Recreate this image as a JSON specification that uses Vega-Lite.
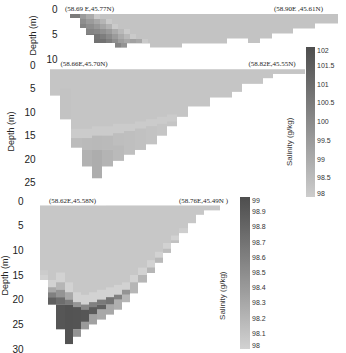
{
  "$schema": "https://vega.github.io/schema/vega-lite/v6.json",
  "padding": {"left": 0, "top": 4, "right": 0, "bottom": 0},
  "background": "white",
  "config": {
    "view": {"stroke": null},
    "font": "Liberation Sans",
    "axis": {"domain": false, "ticks": false, "grid": false, "labelFontSize": 10, "labelColor": "#222", "titleFontSize": 9, "titleFontWeight": "normal", "titleColor": "#222", "labelOverlap": false},
    "legend": {"labelFontSize": 7, "labelColor": "#333", "gradientStrokeWidth": 0, "labelOverlap": false}
  },
  "datasets": {
    "p1": [
      {"x0": 30, "x1": 40, "d0": 1, "d1": 1.8, "s": 98.3},
      {"x0": 40, "x1": 46, "d0": 1, "d1": 3.8, "s": 98.3},
      {"x0": 46, "x1": 54, "d0": 1, "d1": 5.2, "s": 98.3},
      {"x0": 54, "x1": 75, "d0": 1, "d1": 6.8, "s": 98.3},
      {"x0": 75, "x1": 87, "d0": 1, "d1": 7.7, "s": 98.3},
      {"x0": 87, "x1": 110, "d0": 1, "d1": 6.9, "s": 98.3},
      {"x0": 110, "x1": 142, "d0": 1, "d1": 7.7, "s": 98.3},
      {"x0": 142, "x1": 187, "d0": 1, "d1": 6.9, "s": 98.3},
      {"x0": 187, "x1": 208, "d0": 1, "d1": 5.9, "s": 98.3},
      {"x0": 208, "x1": 220, "d0": 1, "d1": 6.8, "s": 98.3},
      {"x0": 220, "x1": 232, "d0": 1, "d1": 5.9, "s": 98.3},
      {"x0": 232, "x1": 253, "d0": 1, "d1": 4.9, "s": 98.3},
      {"x0": 253, "x1": 275, "d0": 1, "d1": 3.9, "s": 98.3},
      {"x0": 275, "x1": 298, "d0": 1, "d1": 2.9, "s": 98.3},
      {"x0": 30, "x1": 40, "d0": 1, "d1": 1.8, "s": 100.5},
      {"x0": 40, "x1": 46, "d0": 1, "d1": 2, "s": 99.5},
      {"x0": 46, "x1": 54, "d0": 1, "d1": 2, "s": 99.0},
      {"x0": 54, "x1": 60, "d0": 1, "d1": 2, "s": 98.1},
      {"x0": 40, "x1": 46, "d0": 2, "d1": 3, "s": 99.9},
      {"x0": 46, "x1": 54, "d0": 2, "d1": 3, "s": 99.5},
      {"x0": 54, "x1": 60, "d0": 2, "d1": 3, "s": 99.1},
      {"x0": 60, "x1": 66, "d0": 2, "d1": 3, "s": 98.7},
      {"x0": 66, "x1": 72, "d0": 2, "d1": 3, "s": 98.1},
      {"x0": 40, "x1": 46, "d0": 3, "d1": 3.8, "s": 100.2},
      {"x0": 46, "x1": 54, "d0": 3, "d1": 4, "s": 99.9},
      {"x0": 54, "x1": 60, "d0": 3, "d1": 4, "s": 99.6},
      {"x0": 60, "x1": 66, "d0": 3, "d1": 4, "s": 99.2},
      {"x0": 66, "x1": 72, "d0": 3, "d1": 4, "s": 98.8},
      {"x0": 72, "x1": 78, "d0": 3, "d1": 4, "s": 98.1},
      {"x0": 46, "x1": 54, "d0": 4, "d1": 5, "s": 100.2},
      {"x0": 54, "x1": 60, "d0": 4, "d1": 5, "s": 100.1},
      {"x0": 60, "x1": 66, "d0": 4, "d1": 5, "s": 99.8},
      {"x0": 66, "x1": 72, "d0": 4, "d1": 5, "s": 99.5},
      {"x0": 72, "x1": 78, "d0": 4, "d1": 5, "s": 99.0},
      {"x0": 78, "x1": 84, "d0": 4, "d1": 5, "s": 98.6},
      {"x0": 84, "x1": 90, "d0": 4, "d1": 5, "s": 98.1},
      {"x0": 46, "x1": 54, "d0": 5, "d1": 5.2, "s": 100.5},
      {"x0": 54, "x1": 60, "d0": 5, "d1": 6, "s": 100.7},
      {"x0": 60, "x1": 66, "d0": 5, "d1": 6, "s": 100.4},
      {"x0": 66, "x1": 72, "d0": 5, "d1": 6, "s": 100.0},
      {"x0": 72, "x1": 78, "d0": 5, "d1": 6, "s": 99.5},
      {"x0": 78, "x1": 84, "d0": 5, "d1": 6, "s": 99.0},
      {"x0": 84, "x1": 90, "d0": 5, "d1": 6, "s": 98.6},
      {"x0": 90, "x1": 96, "d0": 5, "d1": 6, "s": 98.1},
      {"x0": 54, "x1": 60, "d0": 6, "d1": 6.8, "s": 100.8},
      {"x0": 60, "x1": 66, "d0": 6, "d1": 6.8, "s": 100.8},
      {"x0": 66, "x1": 72, "d0": 6, "d1": 6.8, "s": 100.4},
      {"x0": 72, "x1": 78, "d0": 6, "d1": 6.8, "s": 99.9},
      {"x0": 78, "x1": 84, "d0": 6, "d1": 6.8, "s": 99.4},
      {"x0": 84, "x1": 90, "d0": 6, "d1": 6.8, "s": 99.1},
      {"x0": 90, "x1": 96, "d0": 6, "d1": 6.8, "s": 99.3},
      {"x0": 96, "x1": 102, "d0": 6, "d1": 6.8, "s": 99.1},
      {"x0": 102, "x1": 108, "d0": 6, "d1": 6.8, "s": 98.1},
      {"x0": 75, "x1": 81, "d0": 6.8, "d1": 7.7, "s": 100.2},
      {"x0": 81, "x1": 87, "d0": 6.8, "d1": 7.7, "s": 99.7}
    ],
    "p2": [
      {"x0": 10, "x1": 20, "d0": 0.9, "d1": 6.5, "s": 98.22},
      {"x0": 20, "x1": 31, "d0": 0.9, "d1": 11.5, "s": 98.22},
      {"x0": 31, "x1": 42, "d0": 0.9, "d1": 17.5, "s": 98.22},
      {"x0": 42, "x1": 52, "d0": 0.9, "d1": 21.5, "s": 98.22},
      {"x0": 52, "x1": 62, "d0": 0.9, "d1": 24, "s": 98.22},
      {"x0": 62, "x1": 73, "d0": 0.9, "d1": 21.5, "s": 98.22},
      {"x0": 73, "x1": 84, "d0": 0.9, "d1": 20.3, "s": 98.22},
      {"x0": 84, "x1": 95, "d0": 0.9, "d1": 19, "s": 98.22},
      {"x0": 95, "x1": 106, "d0": 0.9, "d1": 18, "s": 98.22},
      {"x0": 106, "x1": 117, "d0": 0.9, "d1": 16.8, "s": 98.22},
      {"x0": 117, "x1": 127, "d0": 0.9, "d1": 15, "s": 98.22},
      {"x0": 127, "x1": 137, "d0": 0.9, "d1": 13, "s": 98.22},
      {"x0": 137, "x1": 148, "d0": 0.9, "d1": 11, "s": 98.22},
      {"x0": 148, "x1": 170, "d0": 0.9, "d1": 8.8, "s": 98.22},
      {"x0": 170, "x1": 192, "d0": 0.9, "d1": 6.9, "s": 98.22},
      {"x0": 192, "x1": 202, "d0": 0.9, "d1": 5.7, "s": 98.22},
      {"x0": 202, "x1": 223, "d0": 0.9, "d1": 4, "s": 98.22},
      {"x0": 223, "x1": 233, "d0": 0.9, "d1": 2.8, "s": 98.22},
      {"x0": 233, "x1": 265, "d0": 0.9, "d1": 1.9, "s": 98.22},
      {"x0": 20, "x1": 31, "d0": 5, "d1": 11.5, "s": 98.3},
      {"x0": 31, "x1": 42, "d0": 13.5, "d1": 15.5, "s": 98.05},
      {"x0": 42, "x1": 52, "d0": 13.5, "d1": 15.5, "s": 98.05},
      {"x0": 52, "x1": 62, "d0": 13, "d1": 15, "s": 98.05},
      {"x0": 62, "x1": 73, "d0": 13, "d1": 15, "s": 98.05},
      {"x0": 73, "x1": 84, "d0": 12.5, "d1": 14.5, "s": 98.05},
      {"x0": 84, "x1": 95, "d0": 12.5, "d1": 14, "s": 98.05},
      {"x0": 95, "x1": 106, "d0": 12, "d1": 13.5, "s": 98.05},
      {"x0": 106, "x1": 117, "d0": 11.5, "d1": 13, "s": 98.05},
      {"x0": 117, "x1": 127, "d0": 11, "d1": 12.5, "s": 98.05},
      {"x0": 127, "x1": 137, "d0": 10.5, "d1": 12, "s": 98.05},
      {"x0": 31, "x1": 42, "d0": 15.5, "d1": 17.5, "s": 98.5},
      {"x0": 42, "x1": 52, "d0": 15.5, "d1": 18, "s": 98.55},
      {"x0": 42, "x1": 52, "d0": 18, "d1": 21.5, "s": 98.8},
      {"x0": 52, "x1": 62, "d0": 15, "d1": 18, "s": 98.6},
      {"x0": 52, "x1": 62, "d0": 18, "d1": 24, "s": 98.95},
      {"x0": 62, "x1": 73, "d0": 15, "d1": 18, "s": 98.55},
      {"x0": 62, "x1": 73, "d0": 18, "d1": 21.5, "s": 98.75},
      {"x0": 73, "x1": 84, "d0": 14.5, "d1": 17, "s": 98.45},
      {"x0": 73, "x1": 84, "d0": 17, "d1": 20.3, "s": 98.55},
      {"x0": 84, "x1": 95, "d0": 14, "d1": 19, "s": 98.4},
      {"x0": 95, "x1": 106, "d0": 13.5, "d1": 18, "s": 98.35},
      {"x0": 106, "x1": 117, "d0": 13, "d1": 16.8, "s": 98.3}
    ],
    "p3": [
      {"x0": 0, "x1": 8, "d0": 0.9, "d1": 16, "s": 98.08},
      {"x0": 8, "x1": 16, "d0": 0.9, "d1": 21, "s": 98.08},
      {"x0": 16, "x1": 25, "d0": 0.9, "d1": 26, "s": 98.08},
      {"x0": 25, "x1": 33, "d0": 0.9, "d1": 29, "s": 98.08},
      {"x0": 33, "x1": 41, "d0": 0.9, "d1": 27.5, "s": 98.08},
      {"x0": 41, "x1": 49, "d0": 0.9, "d1": 26, "s": 98.08},
      {"x0": 49, "x1": 57, "d0": 0.9, "d1": 25, "s": 98.08},
      {"x0": 57, "x1": 66, "d0": 0.9, "d1": 24, "s": 98.08},
      {"x0": 66, "x1": 74, "d0": 0.9, "d1": 23, "s": 98.08},
      {"x0": 74, "x1": 82, "d0": 0.9, "d1": 22, "s": 98.08},
      {"x0": 82, "x1": 90, "d0": 0.9, "d1": 20.5, "s": 98.08},
      {"x0": 90, "x1": 98, "d0": 0.9, "d1": 18.7, "s": 98.08},
      {"x0": 98, "x1": 107, "d0": 0.9, "d1": 16.5, "s": 98.08},
      {"x0": 107, "x1": 115, "d0": 0.9, "d1": 14.6, "s": 98.08},
      {"x0": 115, "x1": 123, "d0": 0.9, "d1": 12.5, "s": 98.08},
      {"x0": 123, "x1": 131, "d0": 0.9, "d1": 10.5, "s": 98.08},
      {"x0": 131, "x1": 139, "d0": 0.9, "d1": 8.5, "s": 98.08},
      {"x0": 139, "x1": 148, "d0": 0.9, "d1": 6.5, "s": 98.08},
      {"x0": 148, "x1": 156, "d0": 0.9, "d1": 4.5, "s": 98.08},
      {"x0": 156, "x1": 164, "d0": 0.9, "d1": 2.8, "s": 98.08},
      {"x0": 164, "x1": 180, "d0": 0.9, "d1": 1.9, "s": 98.08},
      {"x0": 0, "x1": 8, "d0": 14, "d1": 15, "s": 98.04},
      {"x0": 0, "x1": 8, "d0": 15, "d1": 16, "s": 98.0},
      {"x0": 8, "x1": 16, "d0": 16, "d1": 17.5, "s": 98.0},
      {"x0": 8, "x1": 16, "d0": 17.5, "d1": 18.5, "s": 98.3},
      {"x0": 8, "x1": 16, "d0": 18.5, "d1": 19.5, "s": 98.6},
      {"x0": 8, "x1": 16, "d0": 19.5, "d1": 21, "s": 98.85},
      {"x0": 16, "x1": 25, "d0": 14.5, "d1": 16.5, "s": 98.0},
      {"x0": 16, "x1": 25, "d0": 16.5, "d1": 18, "s": 98.2},
      {"x0": 16, "x1": 25, "d0": 18, "d1": 19.5, "s": 98.45},
      {"x0": 16, "x1": 25, "d0": 19.5, "d1": 21, "s": 98.75},
      {"x0": 16, "x1": 25, "d0": 21, "d1": 26, "s": 98.93},
      {"x0": 25, "x1": 33, "d0": 16.5, "d1": 18.5, "s": 98.0},
      {"x0": 25, "x1": 33, "d0": 18.5, "d1": 20, "s": 98.3},
      {"x0": 25, "x1": 33, "d0": 20, "d1": 21, "s": 98.65},
      {"x0": 25, "x1": 33, "d0": 21, "d1": 29, "s": 98.96},
      {"x0": 33, "x1": 41, "d0": 18.5, "d1": 20.5, "s": 98.0},
      {"x0": 33, "x1": 41, "d0": 20.5, "d1": 21.5, "s": 98.45},
      {"x0": 33, "x1": 41, "d0": 21.5, "d1": 26, "s": 98.95},
      {"x0": 33, "x1": 41, "d0": 26, "d1": 27.5, "s": 98.45},
      {"x0": 41, "x1": 49, "d0": 19, "d1": 21, "s": 98.0},
      {"x0": 41, "x1": 49, "d0": 21, "d1": 22, "s": 98.55},
      {"x0": 41, "x1": 49, "d0": 22, "d1": 24.5, "s": 98.93},
      {"x0": 41, "x1": 49, "d0": 24.5, "d1": 26, "s": 98.4},
      {"x0": 49, "x1": 57, "d0": 18.5, "d1": 20.5, "s": 98.0},
      {"x0": 49, "x1": 57, "d0": 20.5, "d1": 21.5, "s": 98.6},
      {"x0": 49, "x1": 57, "d0": 21.5, "d1": 23, "s": 98.9},
      {"x0": 49, "x1": 57, "d0": 23, "d1": 25, "s": 98.35},
      {"x0": 57, "x1": 66, "d0": 18, "d1": 20, "s": 98.0},
      {"x0": 57, "x1": 66, "d0": 20, "d1": 21, "s": 98.65},
      {"x0": 57, "x1": 66, "d0": 21, "d1": 22, "s": 98.85},
      {"x0": 57, "x1": 66, "d0": 22, "d1": 24, "s": 98.3},
      {"x0": 66, "x1": 74, "d0": 17.5, "d1": 19.5, "s": 98.0},
      {"x0": 66, "x1": 74, "d0": 19.5, "d1": 21, "s": 98.7},
      {"x0": 66, "x1": 74, "d0": 21, "d1": 23, "s": 98.3},
      {"x0": 74, "x1": 82, "d0": 17, "d1": 19, "s": 98.0},
      {"x0": 74, "x1": 82, "d0": 19, "d1": 20, "s": 98.6},
      {"x0": 74, "x1": 82, "d0": 20, "d1": 22, "s": 98.25},
      {"x0": 82, "x1": 90, "d0": 16.5, "d1": 18, "s": 98.0},
      {"x0": 82, "x1": 90, "d0": 18, "d1": 19, "s": 98.45},
      {"x0": 82, "x1": 90, "d0": 19, "d1": 20.5, "s": 98.2},
      {"x0": 90, "x1": 98, "d0": 15, "d1": 16.5, "s": 98.0},
      {"x0": 90, "x1": 98, "d0": 16.5, "d1": 18.7, "s": 98.2},
      {"x0": 98, "x1": 107, "d0": 13.5, "d1": 15, "s": 98.0},
      {"x0": 98, "x1": 107, "d0": 15, "d1": 16.5, "s": 98.2},
      {"x0": 107, "x1": 115, "d0": 12, "d1": 13.5, "s": 98.0},
      {"x0": 107, "x1": 115, "d0": 13.5, "d1": 14.6, "s": 98.2},
      {"x0": 115, "x1": 123, "d0": 10.3, "d1": 11.5, "s": 98.0},
      {"x0": 115, "x1": 123, "d0": 11.5, "d1": 12.5, "s": 98.18},
      {"x0": 123, "x1": 131, "d0": 8.5, "d1": 9.7, "s": 98.0},
      {"x0": 123, "x1": 131, "d0": 9.7, "d1": 10.5, "s": 98.15},
      {"x0": 131, "x1": 139, "d0": 7, "d1": 8, "s": 98.0},
      {"x0": 131, "x1": 139, "d0": 8, "d1": 8.5, "s": 98.12},
      {"x0": 139, "x1": 148, "d0": 5.5, "d1": 6.5, "s": 98.03}
    ],
    "t1": [
      {"x": 49.5, "d": 0, "label": "(58.69 E,45.77N)"},
      {"x": 258.5, "d": 0, "label": "(58.90E ,45.61N)"}
    ],
    "t2": [
      {"x": 44, "d": -0.3, "label": "(58.66E,45.70N)"},
      {"x": 232, "d": -0.3, "label": "(58.82E,45.55N)"}
    ],
    "t3": [
      {"x": 32.5, "d": 0, "label": "(58.62E,45.58N)"},
      {"x": 163.5, "d": 0, "label": "(58.76E,45.49N )"}
    ],
    "s2": [{"x": 250, "d": 16.3, "label": "Salinity (g/kg)"}],
    "s3": [{"x": 183, "d": 19.2, "label": "Salinity (g/kg)"}]
  },
  "spacing": 4,
  "bounds": "flush",
  "resolve": {"scale": {"color": "independent"}, "legend": {"color": "independent"}},
  "vconcat": [
    {
      "width": 300,
      "height": 52,
      "encoding": {
        "y": {"field": "d0", "type": "quantitative", "scale": {"domain": [0, 10.4], "reverse": true, "nice": false, "zero": false}, "axis": {"values": [0, 5, 10], "title": "Depth (m)", "offset": -22, "labelPadding": 5, "titlePadding": 8}}
      },
      "layer": [
        {
          "data": {"name": "p1"},
          "mark": {"type": "rect"},
          "encoding": {
            "x": {"field": "x0", "type": "quantitative", "scale": {"domain": [0, 300], "nice": false, "zero": false}, "axis": null},
            "x2": {"field": "x1"},
            "y2": {"field": "d1"},
            "color": {"field": "s", "type": "quantitative", "scale": {"domain": [98, 102], "range": ["#cdcdcd", "#4e4e4e"], "clamp": true}, "legend": null}
          }
        },
        {
          "data": {"name": "t1"},
          "transform": [{"calculate": "datum.d", "as": "d0"}],
          "mark": {"type": "text", "fontSize": 7, "font": "Liberation Sans Narrow", "baseline": "middle", "align": "center", "color": "#222"},
          "encoding": {
            "x": {"field": "x", "type": "quantitative"},
            "text": {"field": "label"}
          }
        }
      ]
    },
    {
      "width": 300,
      "height": 132,
      "encoding": {
        "y": {"field": "d0", "type": "quantitative", "scale": {"domain": [0, 28], "reverse": true, "nice": false, "zero": false}, "axis": {"values": [0, 5, 10, 15, 20, 25], "title": "Depth (m)", "offset": 0, "labelPadding": 5, "titlePadding": 8}}
      },
      "layer": [
        {
          "data": {"name": "p2"},
          "mark": {"type": "rect"},
          "encoding": {
            "x": {"field": "x0", "type": "quantitative", "scale": {"domain": [0, 300], "nice": false, "zero": false}, "axis": null},
            "x2": {"field": "x1"},
            "y2": {"field": "d1"},
            "color": {"field": "s", "type": "quantitative", "scale": {"domain": [98, 102], "range": ["#cdcdcd", "#4e4e4e"], "clamp": true},
              "legend": {"type": "gradient", "orient": "none", "legendX": 266, "legendY": -18, "direction": "vertical", "gradientLength": 150, "gradientThickness": 9, "values": [98, 98.5, 99, 99.5, 100, 100.5, 101, 101.5, 102], "format": ".4~g", "title": null, "labelOffset": 2}}
          }
        },
        {
          "data": {"name": "t2"},
          "transform": [{"calculate": "datum.d", "as": "d0"}],
          "mark": {"type": "text", "fontSize": 7, "font": "Liberation Sans Narrow", "baseline": "middle", "align": "center", "color": "#222"},
          "encoding": {
            "x": {"field": "x", "type": "quantitative"},
            "text": {"field": "label"}
          }
        },
        {
          "data": {"name": "s2"},
          "transform": [{"calculate": "datum.d", "as": "d0"}],
          "mark": {"type": "text", "fontSize": 8, "angle": 270, "baseline": "middle", "align": "center", "color": "#333"},
          "encoding": {
            "x": {"field": "x", "type": "quantitative"},
            "text": {"field": "label"}
          }
        }
      ]
    },
    {
      "width": 300,
      "height": 148,
      "encoding": {
        "y": {"field": "d0", "type": "quantitative", "scale": {"domain": [0, 30], "reverse": true, "nice": false, "zero": false}, "axis": {"values": [0, 5, 10, 15, 20, 25, 30], "title": "Depth (m)", "offset": 0, "labelPadding": 17, "titlePadding": 2}}
      },
      "layer": [
        {
          "data": {"name": "p3"},
          "mark": {"type": "rect"},
          "encoding": {
            "x": {"field": "x0", "type": "quantitative", "scale": {"domain": [0, 300], "nice": false, "zero": false}, "axis": null},
            "x2": {"field": "x1"},
            "y2": {"field": "d1"},
            "color": {"field": "s", "type": "quantitative", "scale": {"domain": [98, 99], "range": ["#d2d2d2", "#4e4e4e"], "clamp": true},
              "legend": {"type": "gradient", "orient": "none", "legendX": 200, "legendY": -4, "direction": "vertical", "gradientLength": 152, "gradientThickness": 10, "values": [98, 98.1, 98.2, 98.3, 98.4, 98.5, 98.6, 98.7, 98.8, 98.9, 99], "format": ".4~g", "title": null, "labelOffset": 2}}
          }
        },
        {
          "data": {"name": "t3"},
          "transform": [{"calculate": "datum.d", "as": "d0"}],
          "mark": {"type": "text", "fontSize": 7, "font": "Liberation Sans Narrow", "baseline": "middle", "align": "center", "color": "#222"},
          "encoding": {
            "x": {"field": "x", "type": "quantitative"},
            "text": {"field": "label"}
          }
        },
        {
          "data": {"name": "s3"},
          "transform": [{"calculate": "datum.d", "as": "d0"}],
          "mark": {"type": "text", "fontSize": 8, "angle": 270, "baseline": "middle", "align": "center", "color": "#333"},
          "encoding": {
            "x": {"field": "x", "type": "quantitative"},
            "text": {"field": "label"}
          }
        }
      ]
    }
  ]
}
